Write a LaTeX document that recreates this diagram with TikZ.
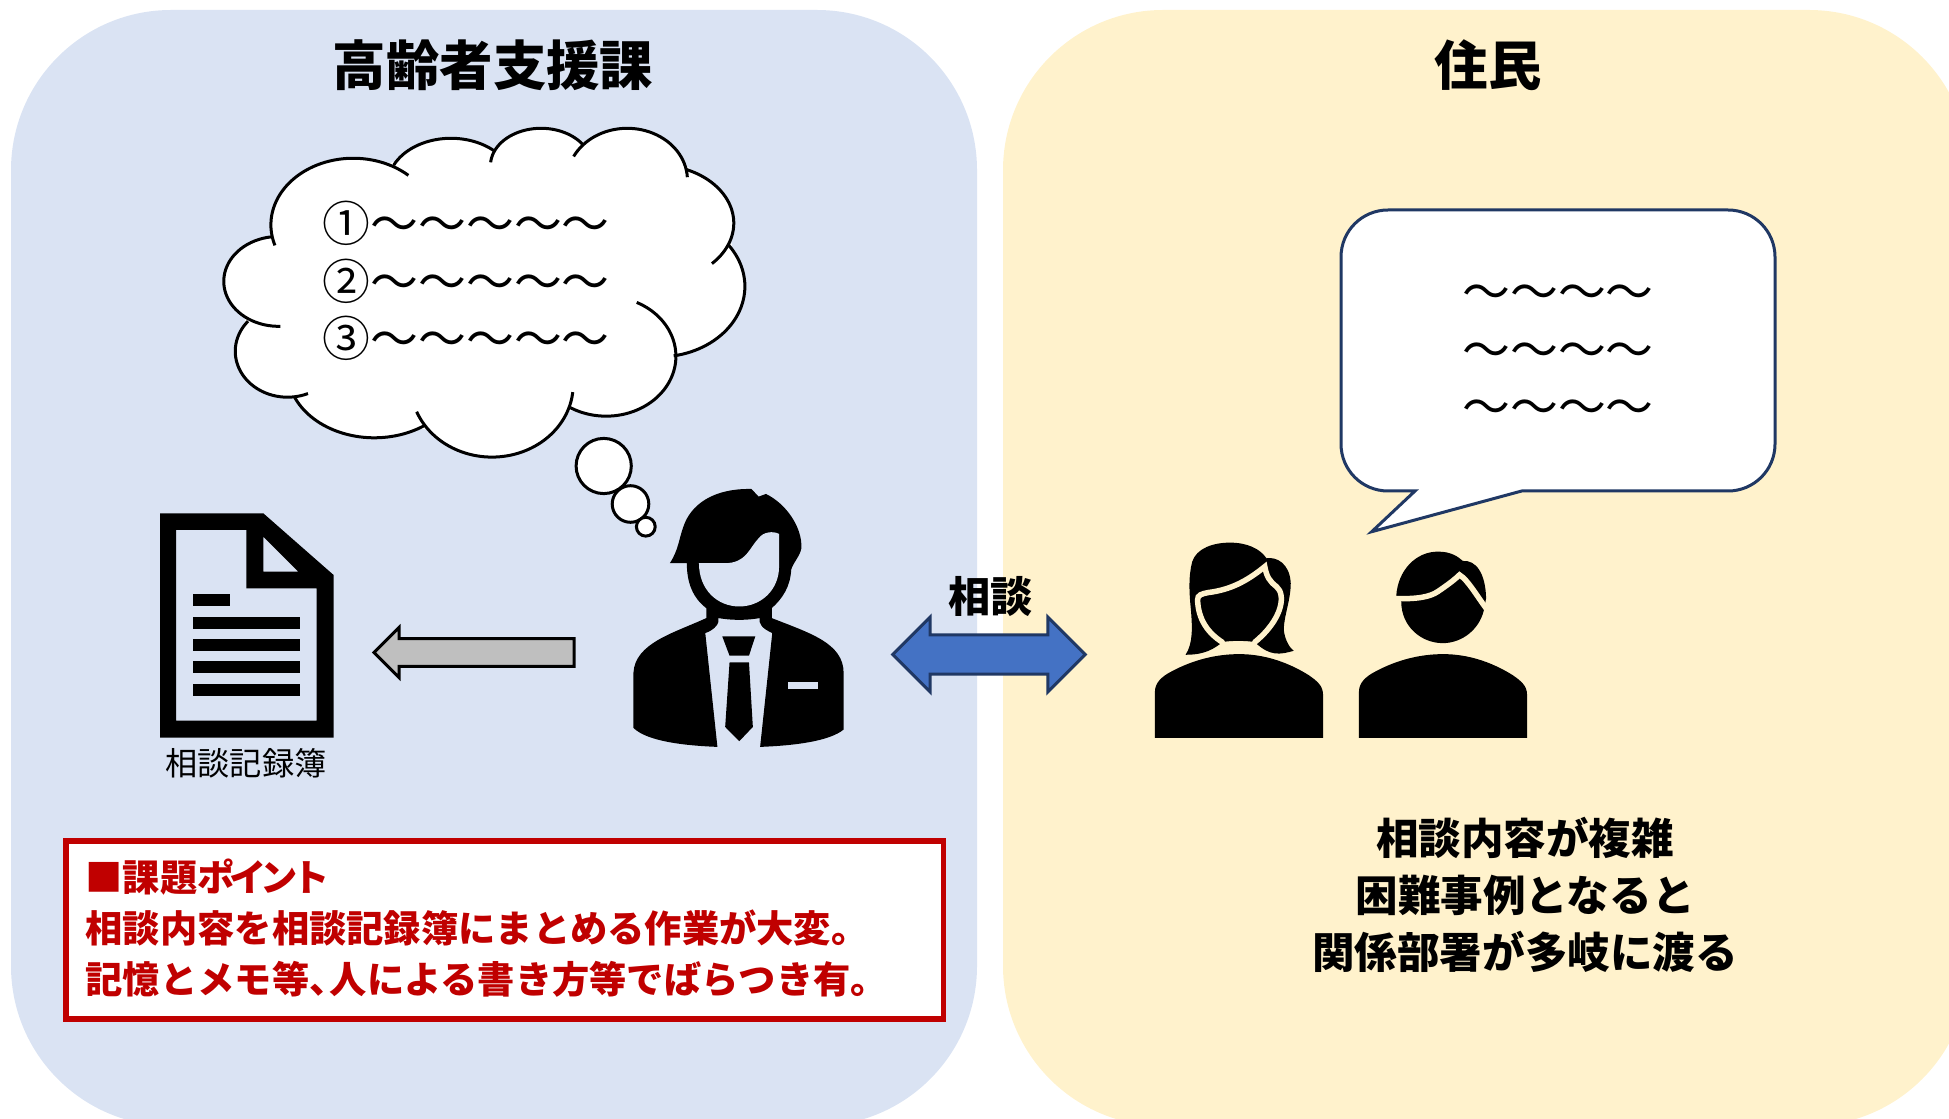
\documentclass[tikz,border=0pt]{standalone}
\usepackage{fontspec}
\setmainfont{Noto Sans CJK JP}
\usetikzlibrary{shapes.arrows}

\definecolor{panelblue}{HTML}{DAE3F3}
\definecolor{panelyellow}{HTML}{FFF2CC}
\definecolor{alertred}{HTML}{C00000}
\definecolor{bubbleline}{HTML}{203864}
\definecolor{arrowblue}{HTML}{4472C4}
\definecolor{arrowgrey}{HTML}{BFBFBF}

% the lobes of the cloud: elliptic arcs, centre x/y, radii, first and last angle
\newcommand{\cloudlobes}[1]{%
  \foreach \lobex/\lobey/\lobea/\lobeb/\lobefrom/\lobeto in {
    400/345/215/200/162/312, 655/225/165/140/205/314, 890/167/132/112/185/326,
    1115/210/157/155/207/357, 1190/340/203/175/293/404, 1197/530/225/212/-36/80,
    1060/740/182/180/-64/121, 762/825/212/218/6/158, 455/785/226/200/55/158,
    228.5/725/136.5/138/67/221, 205/515/143/135/88/262}
    \path[#1] plot[variable=\t, domain=\lobefrom:\lobeto, samples=40, smooth]
      ({\lobex+\lobea*cos(\t)},{\lobey+\lobeb*sin(\t)});
}

\begin{document}
\begin{tikzpicture}[
  x=0.01cm, y=-0.01cm,
  panel/.style={rounded corners=1.6cm},
  title/.style={font=\fontsize{15.2}{18}\selectfont\bfseries},
  cloudline/.style={draw=black, line width=0.03cm},
  bubble/.style={draw=black, line width=0.03cm, fill=white},
  wavetext/.style={font=\fontsize{13.6}{16.3}\selectfont, align=center, inner sep=0pt},
  silhouette/.style={fill=black},
  hairline/.style={draw=panelyellow, line width=0.055cm, line cap=round}
]
  \useasboundingbox (0,0) rectangle (1949,1119);
  \clip (0,0) rectangle (1949,1119);

  % Two panels, cut off by the lower and right edge
  \fill[panel, panelblue] (11,10) rectangle (977,1126);
  \fill[panel, panelyellow] (1003,10) rectangle (1969,1126);

  \node[title] (staff) at (493,65) {高齢者支援課};
  \node[title] (residents) at (1488,65) {住民};

  % Thought cloud
  \begin{scope}[shift={(200,110)}, x=0.003827cm, y=-0.003333cm]
    \cloudlobes{fill=white}
    \filldraw[white, line width=0.06cm] (190,385) -- (505,165) -- (770,125) -- (1000,105) -- (1270,180) -- (1380,405)
      -- (1240,740) -- (965,895) -- (585,950) -- (248,860) -- (125,635) -- cycle;
    \cloudlobes{cloudline}
  \end{scope}
  \node[wavetext, anchor=west, align=left] (thoughts) at (322,281) {①～～～～～\\②～～～～～\\③～～～～～};

  \draw[bubble] (603.7,466) circle (27.6);
  \draw[bubble] (630.5,504) circle (18.3);
  \draw[bubble] (645.8,526.7) circle (9.4);

  % Record sheet icon
  \fill[black, even odd rule] (160,513.3) -- (263.3,513.3) -- (333.6,575) -- (333.6,737.7) -- (160,737.7) -- cycle
    (176,530) -- (246.3,530) -- (246.3,588.3) -- (316.6,588.3) -- (316.6,720.7) -- (176,720.7) -- cycle
    (263.3,536.7) -- (298.2,571.7) -- (263.3,571.7) -- cycle;
  \fill[black] (193,594) rectangle (229.8,606);
  \foreach \liney in {616.7,639,661,684}
    \fill[black] (193,\liney) rectangle (300,\liney+11.8);
  \node[font=\fontsize{9.15}{11}\selectfont] (sheetlabel) at (246,763) {相談記録簿};

  % Block arrows
  \node[single arrow, shape border rotate=180, draw=black, fill=arrowgrey, line width=0.03cm,
    minimum height=2.0cm, minimum width=0.5cm, single arrow head extend=0.11cm,
    inner xsep=0pt, inner ysep=0.12cm] (toSheet) at (481,652.5) {};
  \node[double arrow, draw=bubbleline, fill=arrowblue, line width=0.03cm,
    minimum height=1.925cm, minimum width=0.75cm, double arrow head extend=0.18cm,
    inner xsep=0pt, inner ysep=0.18cm] (consult) at (989,654.5) {};
  \node[font=\fontsize{12}{14}\selectfont\bfseries] (consultlabel) at (990.7,596.6) {相談};

  % Staff member
  \begin{scope}[shift={(130,470)}, x=0.004847cm, y=-0.003333cm]
    \fill[silhouette] (1112,280) .. controls (1130,240) and (1130,210) .. (1140,170)
      .. controls (1155,105) and (1200,55) .. (1280,57) -- (1295,80) -- (1310,72)
      .. controls (1350,100) and (1385,170) .. (1383,235)
      .. controls (1380,260) and (1365,280) .. (1362,300)
      .. controls (1360,350) and (1345,385) .. (1322,415) -- (1322,445)
      .. controls (1400,490) and (1470,520) .. (1470,610) -- (1470,780)
      .. controls (1440,815) and (1370,828) .. (1298,832) -- (1323,490)
      .. controls (1300,475) and (1295,460) .. (1297,445)
      .. controls (1270,452) and (1240,452) .. (1212,445)
      .. controls (1215,460) and (1205,480) .. (1185,490) -- (1210,832)
      .. controls (1140,828) and (1065,815) .. (1037,775) -- (1037,610)
      .. controls (1040,520) and (1120,490) .. (1187,445) -- (1187,415)
      .. controls (1160,385) and (1147,340) .. (1147,280) -- cycle;
    % Face
    \fill[panelblue] (1172,280) -- (1225,280) .. controls (1270,280) and (1275,235) .. (1295,205)
      .. controls (1305,185) and (1325,183) .. (1337,192) -- (1337,290)
      .. controls (1337,360) and (1300,410) .. (1255,410)
      .. controls (1210,410) and (1172,360) .. (1172,280) -- cycle;
    % Tie and badge
    \fill[silhouette] (1220,500) -- (1288,500) -- (1275,558) -- (1235,558) -- cycle;
    \fill[silhouette] (1235,578) -- (1275,578) -- (1283,772) -- (1255,815) -- (1226,772) -- cycle;
    \fill[panelblue] (1355,637) rectangle (1417,657);
  \end{scope}

  % Speech bubble
  \draw[draw=bubbleline, line width=0.03cm, fill=white]
    (1415,491) -- (1371.7,531.7) -- (1521.7,491) -- (1728,491)
    .. controls (1754,491) and (1775,470) .. (1775,444) -- (1775,257)
    .. controls (1775,231) and (1754,210) .. (1728,210) -- (1388,210)
    .. controls (1362,210) and (1341,231) .. (1341,257) -- (1341,444)
    .. controls (1341,470) and (1362,491) .. (1388,491) -- cycle;
  \node[wavetext] (speech) at (1558,355) {～～～～\\～～～～\\～～～～};

  % Two residents
  \begin{scope}[shift={(1130,520)}, x=0.003333cm, y=-0.003333cm]
    \foreach \bodyx in {0,613}
      \fill[silhouette, xshift=\bodyx*0.003333cm] (75,655) -- (75,515) .. controls (75,490) and (95,470) .. (125,455)
        .. controls (190,420) and (260,403) .. (328,403) .. controls (400,403) and (470,425) .. (535,465)
        .. controls (565,485) and (580,500) .. (580,525) -- (580,655) -- cycle;
    % Woman
    \fill[silhouette] (167,405) .. controls (190,370) and (187,320) .. (183,270)
      .. controls (178,220) and (175,170) .. (187,125)
      .. controls (200,85) and (250,68) .. (300,68)
      .. controls (350,68) and (390,85) .. (410,115)
      .. controls (440,110) and (480,130) .. (483,190)
      .. controls (483,240) and (462,290) .. (462,330)
      .. controls (465,360) and (480,385) .. (492,393)
      .. controls (450,405) and (420,410) .. (375,367)
      .. controls (350,362) and (300,362) .. (277,367)
      .. controls (240,400) and (200,405) .. (167,405) -- cycle;
    \draw[hairline] (277,367) .. controls (235,340) and (205,300) .. (203,240)
      .. controls (203,225) and (215,222) .. (235,218)
      .. controls (300,210) and (350,185) .. (405,140)
      .. controls (410,170) and (420,185) .. (440,200)
      .. controls (470,225) and (457,300) .. (375,367);
    % Man
    \fill[silhouette] (800,228) .. controls (805,150) and (860,95) .. (925,95)
      .. controls (965,95) and (985,110) .. (1000,123)
      .. controls (1040,120) and (1068,160) .. (1070,235) -- (1065,262)
      .. controls (1055,325) and (1000,370) .. (940,370)
      .. controls (875,370) and (815,320) .. (815,245) -- cycle;
    \draw[hairline] (797,236) .. controls (860,238) and (900,232) .. (925,215)
      .. controls (950,198) and (975,180) .. (990,165)
      .. controls (1015,180) and (1040,225) .. (1072,268);
  \end{scope}

  \node[font=\fontsize{12.1}{16.3}\selectfont\bfseries, align=center] (note) at (1525,895)
    {相談内容が複雑\\困難事例となると\\関係部署が多岐に渡る};

  % Red box
  \node[draw=alertred, fill=white, line width=0.055cm, minimum width=8.77cm, minimum height=1.78cm,
    anchor=north west, inner sep=0pt] (issuebox) at (63,838.3) {};
  \node[anchor=west, align=left, inner sep=0pt, text=alertred,
    font=\fontsize{10.6}{14.5}\selectfont\bfseries] (issues) at (85,928)
    {■課題ポ\kern-.15emイ\kern-.15emン\kern-.15emト\\相談内容を相談記録簿にまとめる作業が大変。\\記憶とメモ等、\kern-.45em人による書き方等でばらつき有。};
\end{tikzpicture}
\end{document}
